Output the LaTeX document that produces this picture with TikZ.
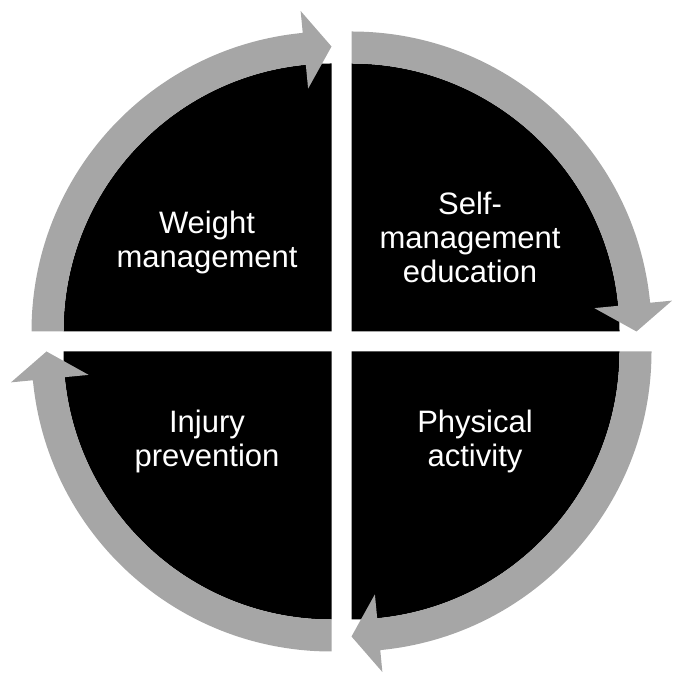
\documentclass[tikz,border=0pt]{standalone}
\usepackage{fontspec}
\setmainfont{Liberation Sans}
\usetikzlibrary{positioning}
\usetikzlibrary{calc}
\definecolor{bandgray}{RGB}{166,166,166}

\begin{document}
\begin{tikzpicture}[x=1pt,y=1pt]
		
		\tikzset{sector/.style = {fill=black}}
		\tikzset{band/.style = {fill=bandgray}}
		\tikzset{label/.style = {text=white,align=center,anchor=base,inner sep=0pt,font=\fontsize{31}{34}\selectfont}}
		\useasboundingbox (0,0) rectangle (673,674);
		
		% quadrants with their arrows
		\foreach \cx/\cy/\a in {331.5/342.5/90, 351.5/342.5/0, 351.5/322.5/-90, 331.5/322.5/180} {
			\begin{scope}[shift={(\cx,\cy)}]
				\fill[sector] (0,0) -- (\a:268pt) arc (\a:\a+90:268pt) -- cycle;
				\fill[band] (\a+5.5:268pt) arc (\a+5.5:\a+90:268pt) -- (\a+90:300pt)
					arc (\a+90:\a+5.5:300pt) -- (\a+5.5:322pt) -- (\a:285pt) -- (\a+5.5:244pt) -- cycle;
			\end{scope}
		}
		
		% labels
		\node[label] (wm) at (207,406) {Weight\\management};
		\node[label] (sme) at (470,391) {Self-\\management\\education};
		\node[label] (ip) at (207,207) {Injury\\prevention};
		\node[label] (pa) at (475,207) {Physical\\activity};
		
\end{tikzpicture}
\end{document}
